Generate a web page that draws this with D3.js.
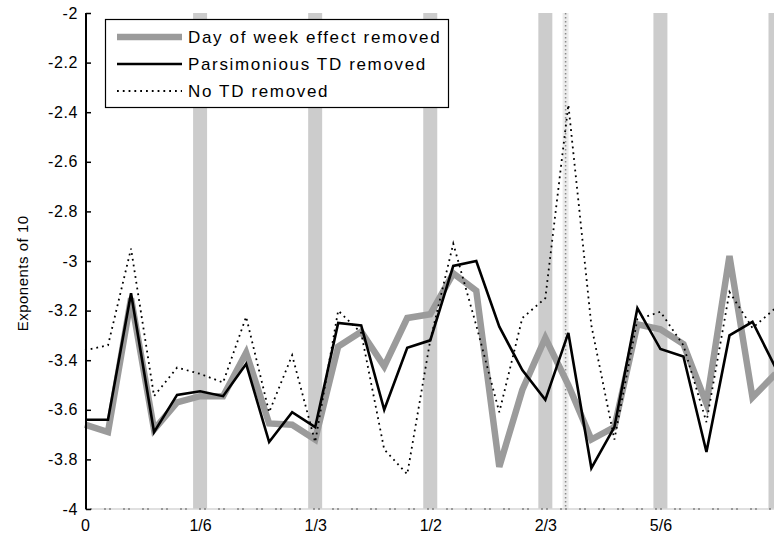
<!DOCTYPE html>
<html>
<head>
<meta charset="utf-8">
<script src="https://cdn.jsdelivr.net/npm/d3@7"></script>
<style>
  html, body { margin: 0; padding: 0; background: #fff; }
  svg { display: block; font-family: "Liberation Sans", Arial, Helvetica, sans-serif; }
</style>
</head>
<body>
<svg id="chart" width="774" height="540"></svg>
<script>
// Frequencies: 31 points, steps of 1/30
const freqs = d3.range(31).map(i => i / 30);

// Log10 spectra of the three adjusted series
const dayOfWeekRemoved = [
  -3.66, -3.69, -3.15, -3.68, -3.57, -3.545, -3.545, -3.37, -3.655, -3.66,
  -3.72, -3.345, -3.285, -3.425, -3.23, -3.215, -3.05, -3.12, -3.83, -3.52,
  -3.31, -3.5, -3.72, -3.67, -3.255, -3.275, -3.335, -3.575, -2.98, -3.55,
  -3.455
];
const parsimoniousRemoved = [
  -3.64, -3.64, -3.13, -3.69, -3.54, -3.525, -3.545, -3.415, -3.73, -3.61,
  -3.67, -3.25, -3.26, -3.6, -3.35, -3.32, -3.02, -3.0, -3.265, -3.44,
  -3.56, -3.29, -3.835, -3.67, -3.19, -3.355, -3.385, -3.77, -3.3, -3.245,
  -3.43
];
const noTDRemoved = [
  -3.36, -3.34, -2.95, -3.545, -3.43, -3.455, -3.49, -3.225, -3.61, -3.38,
  -3.73, -3.2, -3.29, -3.76, -3.86, -3.32, -2.93, -3.26, -3.61, -3.23,
  -3.15, -2.37, -3.26, -3.72, -3.235, -3.205, -3.34, -3.65, -3.125, -3.27,
  -3.19
];

// Seasonal frequencies (shaded bands) and trading-day frequency
const seasonalFreqs = [1/6, 2/6, 3/6, 4/6, 5/6, 1];
const tdFreq = 0.348 * 2;

const xTickValues = [0, 1/6, 1/3, 1/2, 2/3, 5/6];
const xTickLabels = ["0", "1/6", "1/3", "1/2", "2/3", "5/6"];
const yTickValues = [-4, -3.8, -3.6, -3.4, -3.2, -3, -2.8, -2.6, -2.4, -2.2, -2];

const legendLabels = ["Day of week effect removed", "Parsimonious TD removed", "No TD removed"];

const svg = d3.select("#chart");
const x = d3.scaleLinear().domain([0, 1]).range([85, 775.5]);
const y = d3.scaleLinear().domain([-4, -2]).range([509, 13]);

// Shaded seasonal bands
svg.append("g").selectAll("rect")
  .data(seasonalFreqs)
  .join("rect")
  .attr("x", d => x(d) - 7)
  .attr("y", y(-2))
  .attr("width", 14)
  .attr("height", y(-4) - y(-2))
  .attr("fill", "#cccccc");

// Trading-day frequency marker
svg.append("rect")
  .attr("x", x(tdFreq) - 3)
  .attr("y", y(-2))
  .attr("width", 6)
  .attr("height", y(-4) - y(-2))
  .attr("fill", "#ececec");
svg.append("line")
  .attr("x1", x(tdFreq)).attr("x2", x(tdFreq))
  .attr("y1", y(-2)).attr("y2", y(-4))
  .attr("stroke", "#8a8a8a")
  .attr("stroke-width", 1.5)
  .attr("stroke-dasharray", "1.5,2.5");

// Bottom baseline
svg.append("line")
  .attr("x1", x(0)).attr("x2", 774)
  .attr("y1", y(-4)).attr("y2", y(-4))
  .attr("stroke", "#d6d6d6")
  .attr("stroke-width", 1.5);
svg.append("line")
  .attr("x1", x(0)).attr("x2", 774)
  .attr("y1", y(-4)).attr("y2", y(-4))
  .attr("stroke", "#555")
  .attr("stroke-width", 1.2)
  .attr("stroke-dasharray", "2,3,2,12");

// Series
const line = d3.line().x((d, i) => x(freqs[i])).y(d => y(d));

svg.append("path")
  .datum(dayOfWeekRemoved)
  .attr("d", line)
  .attr("fill", "none")
  .attr("stroke", "#9b9b9b")
  .attr("stroke-width", 6.5)
  .attr("stroke-linejoin", "miter");

svg.append("path")
  .datum(noTDRemoved)
  .attr("d", line)
  .attr("fill", "none")
  .attr("stroke", "#000")
  .attr("stroke-width", 1.8)
  .attr("stroke-dasharray", "1.8,4");

svg.append("path")
  .datum(parsimoniousRemoved)
  .attr("d", line)
  .attr("fill", "none")
  .attr("stroke", "#000")
  .attr("stroke-width", 2.6);

// Left axis with inward ticks
const yAxis = d3.axisRight(y)
  .tickValues(yTickValues)
  .tickSize(5);
const gy = svg.append("g")
  .attr("transform", `translate(${x(0) + 1},0)`)
  .call(yAxis);
gy.select(".domain").attr("stroke", "#000").attr("stroke-width", 2).attr("d", `M0,${y(-2)}V${y(-4)}`);
gy.selectAll(".tick line").attr("stroke", "#000").attr("stroke-width", 1.5);
gy.selectAll(".tick text")
  .attr("x", -8)
  .attr("text-anchor", "end")
  .attr("font-size", 16)
  .attr("letter-spacing", 0.6)
  .attr("fill", "#000")
  .text(d => String(+d.toFixed(1)));

// Bottom tick labels
const xAxis = d3.axisBottom(x)
  .tickValues(xTickValues)
  .tickSize(0)
  .tickFormat((d, i) => xTickLabels[i]);
const gx = svg.append("g")
  .attr("transform", `translate(0,${y(-4)})`)
  .call(xAxis);
gx.select(".domain").remove();
gx.selectAll(".tick text")
  .attr("y", 11)
  .attr("font-size", 16)
  .attr("fill", "#000");

// Y axis title
svg.append("text")
  .attr("transform", `translate(28,${(y(-2.8) + y(-3.3)) / 2}) rotate(-90)`)
  .attr("text-anchor", "middle")
  .attr("font-size", 15)
  .attr("letter-spacing", 0.5)
  .attr("fill", "#000")
  .text("Exponents of 10");

// Legend
const legend = svg.append("g");
legend.append("rect")
  .attr("x", 105.5).attr("y", 19.5)
  .attr("width", 343).attr("height", 88)
  .attr("fill", "#fff")
  .attr("stroke", "#000")
  .attr("stroke-width", 1.2);
const legendStyles = [
  { stroke: "#9b9b9b", width: 6.5, dash: null },
  { stroke: "#000", width: 2.6, dash: null },
  { stroke: "#000", width: 1.8, dash: "1.8,4" }
];
legendLabels.forEach((label, i) => {
  const ly = 37 + i * 27;
  legend.append("line")
    .attr("x1", 117).attr("x2", 182)
    .attr("y1", ly).attr("y2", ly)
    .attr("stroke", legendStyles[i].stroke)
    .attr("stroke-width", legendStyles[i].width)
    .attr("stroke-dasharray", legendStyles[i].dash);
  legend.append("text")
    .attr("x", 188).attr("y", ly)
    .attr("dy", "0.36em")
    .attr("font-size", 17)
    .attr("letter-spacing", 1.65)
    .attr("fill", "#000")
    .text(label);
});
</script>
</body>
</html>
